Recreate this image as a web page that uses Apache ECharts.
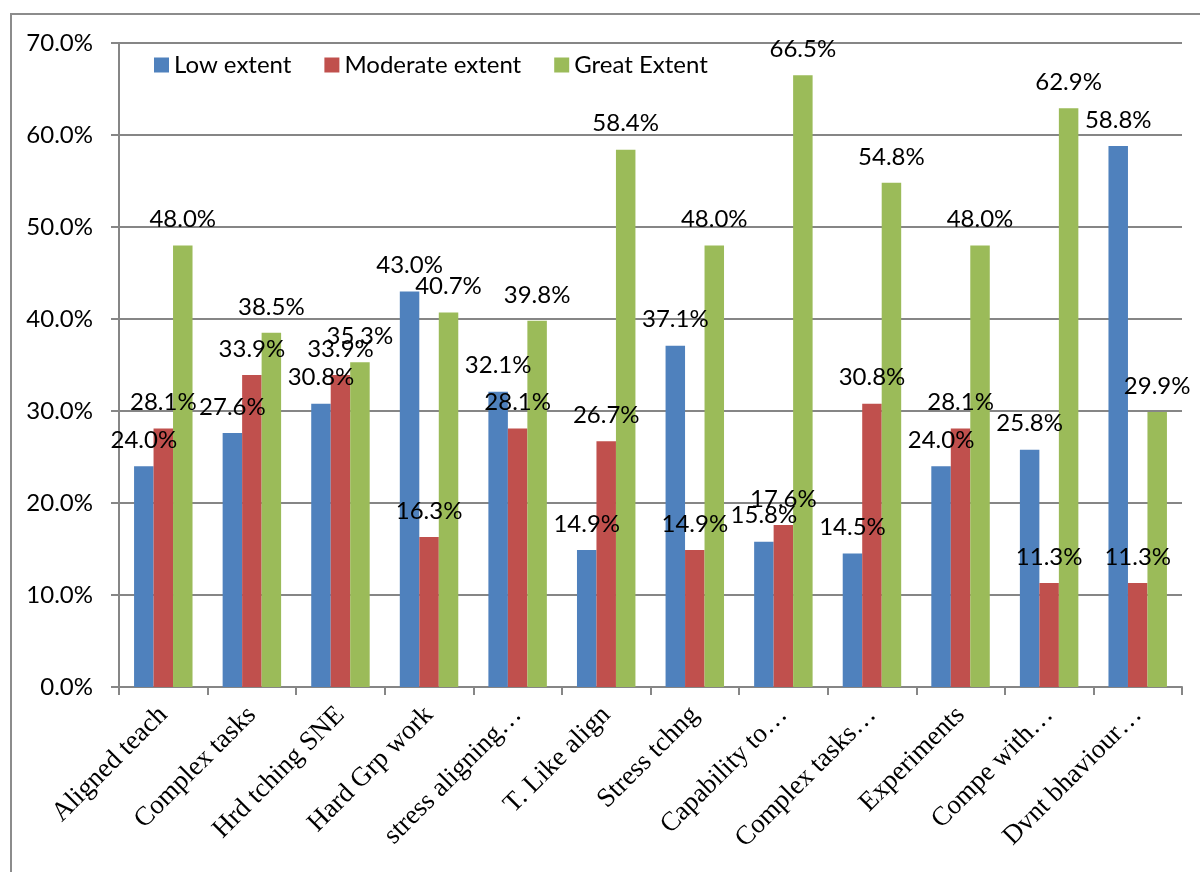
<!DOCTYPE html>
<html>
<head>
<meta charset="utf-8">
<script src="https://cdn.jsdelivr.net/npm/echarts@6/dist/echarts.min.js"></script>
<style>
html,body{margin:0;padding:0;background:#fff;}
#chart{width:1200px;height:872px;}
</style>
</head>
<body>
<div id="chart"></div>
<script>
const categories = ["Aligned teach","Complex tasks","Hrd tching SNE","Hard Grp work","stress aligning…","T. Like align","Stress tchng","Capability to…","Complex tasks…","Experiments","Compe with…","Dvnt bhaviour…"];
const lowExtent = [24.0, 27.6, 30.8, 43.0, 32.1, 14.9, 37.1, 15.8, 14.5, 24.0, 25.8, 58.8];
const moderateExtent = [28.1, 33.9, 33.9, 16.3, 28.1, 26.7, 14.9, 17.6, 30.8, 28.1, 11.3, 11.3];
const greatExtent = [48.0, 38.5, 35.3, 40.7, 39.8, 58.4, 48.0, 66.5, 54.8, 48.0, 62.9, 29.9];
const seriesNames = ["Low extent","Moderate extent","Great Extent"];
const colors = ["#4F81BD","#C0504D","#9BBB59"];

const chart = echarts.init(document.getElementById('chart'));
const labelFont = {fontFamily:'Lato', fontSize:24, color:'#000'};
function mkSeries(name, data, color){
  return {
    name: name, type:'bar', data: data,
    barGap: '0%', barCategoryGap: '34%',
    itemStyle:{color: color},
    label:{show:true, position:'top', distance:14, formatter: p => p.value.toFixed(1)+'%', ...labelFont},
    emphasis:{disabled:true}
  };
}
chart.setOption({
  animation:false,
  backgroundColor:'#fff',
  graphic:[{type:'rect', shape:{x:11, y:14, width:1300, height:1000}, style:{fill:'none', stroke:'#8c8c8c', lineWidth:2}, silent:true, z:-10}],
  legend:{
    left:149, top:48, itemWidth:15, itemHeight:15, itemGap:33,
    icon:'rect',
    textStyle:{fontFamily:'Lato', fontSize:24, color:'#000'},
    data: seriesNames
  },
  grid:{left:119, right:18, top:43, bottom:185, containLabel:false},
  xAxis:{
    type:'category', data: categories,
    axisLine:{lineStyle:{color:'#868686', width:2}},
    axisTick:{show:true, length:8, interval:0, lineStyle:{color:'#868686', width:2}},
    axisLabel:{interval:0, rotate:45, margin:24, fontFamily:'Liberation Serif', fontSize:27, color:'#000'}
  },
  yAxis:{
    type:'value', min:0, max:70, interval:10,
    axisLine:{show:true, lineStyle:{color:'#868686', width:2}},
    axisTick:{show:true, length:8, lineStyle:{color:'#868686', width:2}},
    splitLine:{lineStyle:{color:'#868686', width:2}},
    axisLabel:{margin:26, formatter: v => v.toFixed(1)+'%', fontFamily:'Lato', fontSize:24, color:'#000'}
  },
  series:[
    mkSeries(seriesNames[0], lowExtent, colors[0]),
    mkSeries(seriesNames[1], moderateExtent, colors[1]),
    mkSeries(seriesNames[2], greatExtent, colors[2])
  ]
});
</script>
</body>
</html>
